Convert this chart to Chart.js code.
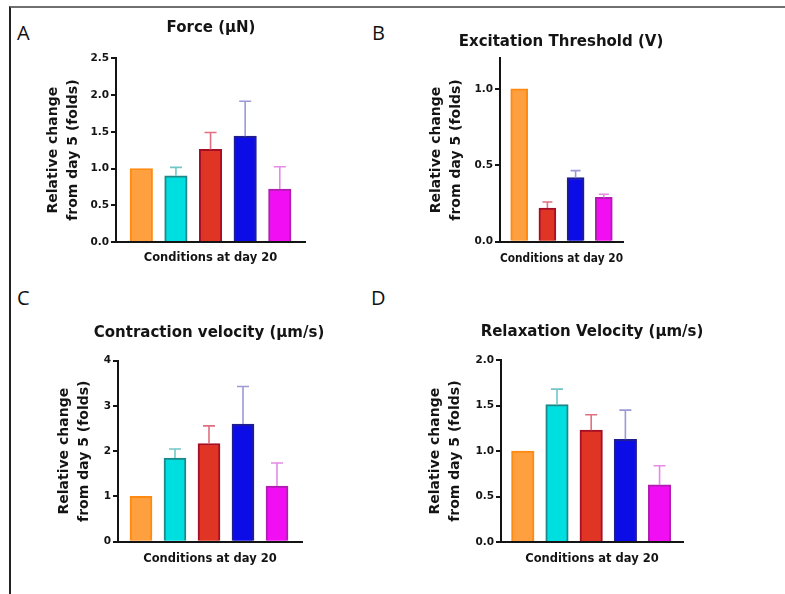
<!DOCTYPE html>
<html>
<head>
<meta charset="utf-8">
<script src="https://cdn.jsdelivr.net/npm/chart.js@4.4.1/dist/chart.umd.min.js"></script>
<style>
  html, body { margin: 0; padding: 0; background: #ffffff; }
  #wrap { position: relative; width: 785px; height: 594px; overflow: hidden; background: #ffffff; }
  .frame { position: absolute; left: 9px; top: 6px; width: 820px; height: 620px;
           border-top: 2px solid #707070; border-left: 2px solid #222222; }
  .letter { position: absolute; font-family: 'Open Sans', sans-serif; font-size: 20px;
            line-height: 20px; color: #111111; }
  canvas { position: absolute; }
</style>
</head>
<body>
<div id="wrap">
  <div class="frame"></div>
  <div class="letter" style="left:17px; top:23px;">A</div>
  <div class="letter" style="left:372px; top:23px;">B</div>
  <div class="letter" style="left:17px; top:288px;">C</div>
  <div class="letter" style="left:371px; top:288px;">D</div>
  <canvas id="cA"></canvas>
  <canvas id="cB"></canvas>
  <canvas id="cC"></canvas>
  <canvas id="cD"></canvas>
</div>
<script>
// ---------------- DATA ----------------
const xAxisTitle = 'Conditions at day 20';
const yAxisTitle = ['Relative change', 'from day 5 (folds)'];

// Panel A: Force
const forceTitle = 'Force (\u03bcN)';
const forceGroups = [0, 1, 2, 3, 4];
const forceValues = [1.00, 0.90, 1.26, 1.44, 0.72];
const forceErrors = [0, 0.115, 0.23, 0.475, 0.305];
const forceTicks = ['0.0', '0.5', '1.0', '1.5', '2.0', '2.5'];
const forceAxisMax = 2.5;

// Panel B: Excitation threshold
const thresholdTitle = 'Excitation Threshold (V)';
const thresholdGroups = [0, 2, 3, 4];
const thresholdValues = [1.00, 0.22, 0.42, 0.29];
const thresholdErrors = [0, 0.04, 0.045, 0.02];
const thresholdTicks = ['0.0', '0.5', '1.0'];
const thresholdAxisMax = 1.2;

// Panel C: Contraction velocity
const contractionTitle = 'Contraction velocity (\u03bcm/s)';
const contractionGroups = [0, 1, 2, 3, 4];
const contractionValues = [1.00, 1.85, 2.17, 2.60, 1.23];
const contractionErrors = [0, 0.20, 0.39, 0.83, 0.51];
const contractionTicks = ['0', '1', '2', '3', '4'];
const contractionAxisMax = 4;

// Panel D: Relaxation velocity
const relaxationTitle = 'Relaxation Velocity (\u03bcm/s)';
const relaxationGroups = [0, 1, 2, 3, 4];
const relaxationValues = [1.00, 1.51, 1.23, 1.13, 0.63];
const relaxationErrors = [0, 0.17, 0.17, 0.32, 0.21];
const relaxationTicks = ['0.0', '0.5', '1.0', '1.5', '2.0'];
const relaxationAxisMax = 2.0;

// ---------------- STYLES ----------------
const groupFill   = ['#FFA040', '#00DFDF', '#E03424', '#0C0CE6', '#F20EF2'];
const groupBorder = ['#FF8A12', '#1E8888', '#A60E26', '#1E1E8E', '#B01EB0'];
const groupError  = ['#FF8A12', '#72C6C6', '#E07080', '#9A9AD6', '#E68AE6'];

const FONT = "'DejaVu Sans', 'Liberation Sans', sans-serif";
const INK = '#141414';

// layout specs (page pixels)
const layoutA = { cx: 0,   cy: 0,   cw: 392, ch: 268, L: 116, R: 305, T: 58.3, B: 242.0, titleX: 211, titleY: 28.3,  xTitleY: 258.3, yTitleX: 53.3, barW: 22.5, cap: 12, xMin: -0.731, xMax: 4.728 };
const layoutB = { cx: 392, cy: 0,   cw: 393, ch: 268, L: 500, R: 623, T: 58.3, B: 241.7, titleX: 561, titleY: 42.3,  xTitleY: 259.3, yTitleX: 436,  barW: 17,   cap: 10, xMin: -0.681, xMax: 3.681 };
const layoutC = { cx: 0,   cy: 290, cw: 392, ch: 304, L: 118, R: 302, T: 360.7, B: 541.7, titleX: 209, titleY: 333.3, xTitleY: 559.3, yTitleX: 64,  barW: 22,   cap: 12, xMin: -0.676, xMax: 4.735 };
const layoutD = { cx: 392, cy: 290, cw: 393, ch: 304, L: 501, R: 683, T: 360, B: 542.3, titleX: 592, titleY: 331.7, xTitleY: 559.3, yTitleX: 435, barW: 22.5, cap: 12, xMin: -0.637, xMax: 4.685 };

Chart.defaults.font.family = FONT;
Chart.defaults.color = INK;

const errorBarPlugin = {
  id: 'errorBars',
  afterDatasetsDraw(chart, args, opts) {
    const meta = chart.getDatasetMeta(0);
    const yScale = chart.scales.y;
    const ctx = chart.ctx;
    const data = chart.data.datasets[0].data;
    ctx.save();
    meta.data.forEach((el, i) => {
      const err = opts.errors[i];
      if (!err) return;
      const top = yScale.getPixelForValue(data[i].y + err);
      ctx.strokeStyle = opts.colors[i];
      ctx.lineWidth = 1.6;
      ctx.beginPath();
      ctx.moveTo(el.x, el.y);
      ctx.lineTo(el.x, top);
      ctx.moveTo(el.x - opts.cap / 2, top);
      ctx.lineTo(el.x + opts.cap / 2, top);
      ctx.stroke();
    });
    ctx.restore();
  }
};

function makePanel(id, lay, title, groups, values, errors, ticks, axisMax) {
  const canvas = document.getElementById(id);
  canvas.width = lay.cw; canvas.height = lay.ch;
  canvas.style.left = lay.cx + 'px'; canvas.style.top = lay.cy + 'px';

  const titleLH = 18;      // 15px * 1.2
  const yTitleLH = 20.5;   // 14px * 1.464
  const xTitleLH = 13.8;   // 11.5px * 1.2
  const scaleLeft = lay.yTitleX - yTitleLH / 2;
  const padLeft = scaleLeft - lay.cx;
  const yWidth = lay.L - scaleLeft;
  const titleRight = 2 * lay.titleX - scaleLeft;   // full-size title box centred on titleX
  const padRight = lay.cx + lay.cw - titleRight;
  const spacerWidth = titleRight - lay.R;
  const tPadTop = lay.titleY - titleLH / 2 - lay.cy;
  const tPadBottom = lay.T - lay.titleY - titleLH / 2;
  const xHeight = lay.xTitleY - lay.B + xTitleLH / 2;
  const padBottom = lay.cy + lay.ch - lay.B - xHeight;

  new Chart(canvas, {
    type: 'bar',
    data: {
      datasets: [{
        data: values.map((v, i) => ({ x: i, y: v })),
        backgroundColor: groups.map(g => groupFill[g]),
        borderColor: groups.map(g => groupBorder[g]),
        borderWidth: 2,
        borderSkipped: 'bottom',
        barThickness: lay.barW,
        xAxisID: 'x', yAxisID: 'y'
      }]
    },
    options: {
      responsive: false,
      maintainAspectRatio: false,
      animation: false,
      events: [],
      layout: { padding: { left: padLeft, right: padRight, top: 0, bottom: padBottom } },
      plugins: {
        legend: { display: false },
        tooltip: { enabled: false },
        title: {
          display: true, text: title, fullSize: true, color: INK,
          font: { family: FONT, size: 15, weight: 'bold', lineHeight: 1.2 },
          padding: { top: tPadTop, bottom: tPadBottom }
        },
        errorBars: { errors: errors, colors: groups.map(g => groupError[g]), cap: lay.cap }
      },
      scales: {
        x: {
          type: 'linear', min: lay.xMin, max: lay.xMax, offset: false,
          grid: { display: false, offset: false },
          ticks: { display: false },
          border: { display: true, color: INK, width: 2, z: 1 },
          title: { display: true, text: xAxisTitle, color: INK, padding: 0,
                   font: { family: FONT, size: 11.5, weight: 'bold', lineHeight: 1.2 } },
          afterFit: s => { s.height = xHeight; }
        },
        y: {
          type: 'linear', position: 'left', min: 0, max: axisMax,
          grid: { display: true, drawOnChartArea: false, drawTicks: true, tickLength: 5, color: INK, lineWidth: 2 },
          border: { display: true, color: INK, width: 2, z: 1 },
          ticks: { autoSkip: false, padding: 2, color: INK,
                   font: { family: FONT, size: 10.5, weight: 'bold' },
                   callback: (v, i) => ticks[i] },
          afterBuildTicks: s => { s.ticks = ticks.map(t => ({ value: parseFloat(t) })); },
          title: { display: true, text: yAxisTitle, color: INK, padding: 0,
                   font: { family: FONT, size: 14, weight: 'bold', lineHeight: 1.464 } },
          afterFit: s => { s.width = yWidth; }
        },
        spacer: {
          type: 'linear', position: 'right', min: 0, max: 1,
          grid: { display: false },
          border: { display: false },
          ticks: { display: false },
          title: { display: false },
          afterFit: s => { s.width = spacerWidth; }
        }
      }
    },
    plugins: [errorBarPlugin]
  });
}

makePanel('cA', layoutA, forceTitle, forceGroups, forceValues, forceErrors, forceTicks, forceAxisMax);
makePanel('cB', layoutB, thresholdTitle, thresholdGroups, thresholdValues, thresholdErrors, thresholdTicks, thresholdAxisMax);
makePanel('cC', layoutC, contractionTitle, contractionGroups, contractionValues, contractionErrors, contractionTicks, contractionAxisMax);
makePanel('cD', layoutD, relaxationTitle, relaxationGroups, relaxationValues, relaxationErrors, relaxationTicks, relaxationAxisMax);
</script>
</body>
</html>
